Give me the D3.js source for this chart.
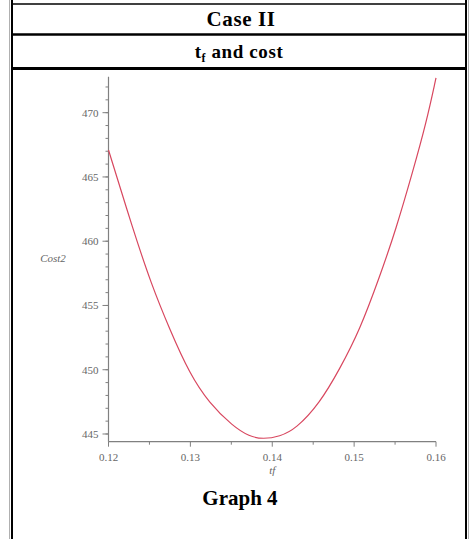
<!DOCTYPE html>
<html>
<head>
<meta charset="utf-8">
<script src="https://cdn.jsdelivr.net/npm/d3@7"></script>
<style>
    body { margin: 0; background: #fff; }
    #graph4 { width: 470px; height: 539px; }
    .cellline { stroke: #000; }
    .label { font-family: "Liberation Serif", "Times New Roman", serif; }
</style>
</head>
<body>
<div id="graph4"></div>
<script>
// tf values
var tfValues = [0.1200, 0.1230, 0.1252, 0.1275, 0.1299, 0.1323, 0.1352, 0.1372,
                0.1389, 0.1409, 0.1429, 0.1458, 0.1482, 0.1507, 0.1531, 0.1551,
                0.1572, 0.1588, 0.1600];
// Cost2 values
var costValues = [467.1, 460.9, 456.7, 453.1, 449.7, 447.4, 445.6, 444.8,
                  444.6, 444.8, 445.4, 447.4, 450.0, 453.1, 457.2, 460.9,
                  465.5, 469.2, 472.7];
var xTicks = [0.12, 0.13, 0.14, 0.15, 0.16];
var xMinorTicks = [0.125, 0.135, 0.145, 0.155];
var yTicks = [445, 450, 455, 460, 465, 470];
var yMinorTicks = d3.range(445, 473, 1);

function drawGraph () {
    var width = 470,
        height = 539;

    var svg = d3.select("#graph4").append("svg")
        .attr("width", width + "px")
        .attr("height", height + "px");

    // table frame: thin grey outside, black cell border inside
    svg.append("line").attr("x1", 9.5).attr("x2", 9.5).attr("y1", 0).attr("y2", height)
        .attr("stroke", "#b0b0b0").attr("stroke-width", 1);
    svg.append("line").attr("x1", 468.5).attr("x2", 468.5).attr("y1", 0).attr("y2", height)
        .attr("stroke", "#b0b0b0").attr("stroke-width", 1);
    svg.append("line").attr("class", "cellline")
        .attr("x1", 12).attr("x2", 12).attr("y1", 0).attr("y2", height)
        .attr("stroke-width", 2);
    svg.append("line").attr("class", "cellline")
        .attr("x1", 466).attr("x2", 466).attr("y1", 0).attr("y2", height)
        .attr("stroke-width", 2);

    var rows = [{"y": 4, "w": 1.5}, {"y": 34.5, "w": 2.5}, {"y": 68.5, "w": 3}];
    svg.selectAll(".rowline")
        .data(rows)
        .enter()
            .append("line").attr("class", "cellline rowline")
            .attr("x1", 11).attr("x2", 467)
            .attr("y1", function(d) { return d.y; })
            .attr("y2", function(d) { return d.y; })
            .attr("stroke-width", function(d) { return d.w; });

    // headings
    svg.append("text").attr("class", "label")
        .attr("x", 241).attr("y", 26)
        .attr("text-anchor", "middle")
        .attr("font-size", "21px").attr("font-weight", "bold")
        .attr("letter-spacing", "0.6px")
        .text("Case II");

    var sub = svg.append("text").attr("class", "label")
        .attr("x", 239).attr("y", 58)
        .attr("text-anchor", "middle")
        .attr("font-size", "19px").attr("font-weight", "bold")
        .attr("letter-spacing", "0.6px");
    sub.append("tspan").text("t");
    sub.append("tspan").attr("font-size", "12px").attr("dy", 4).text("f");
    sub.append("tspan").attr("dy", -4).text(" and cost");

    svg.append("text").attr("class", "label")
        .attr("x", 240).attr("y", 505)
        .attr("text-anchor", "middle")
        .attr("font-size", "21px").attr("font-weight", "bold")
        .text("Graph 4");

    // plot
    var xl = d3.scaleLinear()
        .domain([0.12, 0.16])
        .range([108.5, 436]);
    var yl = d3.scaleLinear()
        .domain([444.4, 472.8])
        .range([441.7, 76.7]);

    var axisColor = "#808080";

    svg.append("line")
        .attr("x1", xl(0.12)).attr("x2", xl(0.12))
        .attr("y1", yl(444.4)).attr("y2", yl(472.8))
        .attr("stroke", axisColor).attr("stroke-width", 1.2);
    svg.append("line")
        .attr("x1", xl(0.12)).attr("x2", xl(0.16))
        .attr("y1", yl(444.4)).attr("y2", yl(444.4))
        .attr("stroke", axisColor).attr("stroke-width", 1.2);

    svg.selectAll(".yminor")
        .data(yMinorTicks)
        .enter()
            .append("line").attr("class", "yminor")
            .attr("x1", xl(0.12) - 3).attr("x2", xl(0.12))
            .attr("y1", function(d) { return yl(d); })
            .attr("y2", function(d) { return yl(d); })
            .attr("stroke", axisColor);
    svg.selectAll(".ymajor")
        .data(yTicks)
        .enter()
            .append("line").attr("class", "ymajor")
            .attr("x1", xl(0.12) - 6).attr("x2", xl(0.12))
            .attr("y1", function(d) { return yl(d); })
            .attr("y2", function(d) { return yl(d); })
            .attr("stroke", axisColor);
    svg.selectAll(".ylabel")
        .data(yTicks)
        .enter()
            .append("text").attr("class", "label ylabel")
            .attr("x", xl(0.12) - 10)
            .attr("y", function(d) { return yl(d) + 4; })
            .attr("text-anchor", "end")
            .attr("font-size", "11px")
            .attr("fill", "#666")
            .text(function(d) { return d; });

    svg.selectAll(".xminor")
        .data(xMinorTicks)
        .enter()
            .append("line").attr("class", "xminor")
            .attr("x1", function(d) { return xl(d); })
            .attr("x2", function(d) { return xl(d); })
            .attr("y1", yl(444.4)).attr("y2", yl(444.4) + 3)
            .attr("stroke", axisColor);
    svg.selectAll(".xmajor")
        .data(xTicks)
        .enter()
            .append("line").attr("class", "xmajor")
            .attr("x1", function(d) { return xl(d); })
            .attr("x2", function(d) { return xl(d); })
            .attr("y1", yl(444.4)).attr("y2", yl(444.4) + 5)
            .attr("stroke", axisColor);
    svg.selectAll(".xlabel")
        .data(xTicks)
        .enter()
            .append("text").attr("class", "label xlabel")
            .attr("x", function(d) { return xl(d); })
            .attr("y", yl(444.4) + 19)
            .attr("text-anchor", "middle")
            .attr("font-size", "11px")
            .attr("fill", "#666")
            .text(function(d) { return d3.format(".2f")(d); });

    svg.append("text").attr("class", "label")
        .attr("x", xl(0.14)).attr("y", 474)
        .attr("text-anchor", "middle")
        .attr("font-size", "11px").attr("font-style", "italic")
        .attr("fill", "#666")
        .text("tf");
    svg.append("text").attr("class", "label")
        .attr("x", 53).attr("y", 262)
        .attr("text-anchor", "middle")
        .attr("font-size", "11px").attr("font-style", "italic")
        .attr("fill", "#666")
        .text("Cost2");

    var linefun = d3.line()
        .x(function(d, i) { return xl(tfValues[i]); })
        .y(function(d) { return yl(d); })
        .curve(d3.curveBasis);

    svg.append("path")
        .attr("d", linefun(costValues))
        .attr("fill", "none")
        .attr("stroke", "#d8475f")
        .attr("stroke-width", 1.2);
}

drawGraph();
</script>
</body>
</html>
